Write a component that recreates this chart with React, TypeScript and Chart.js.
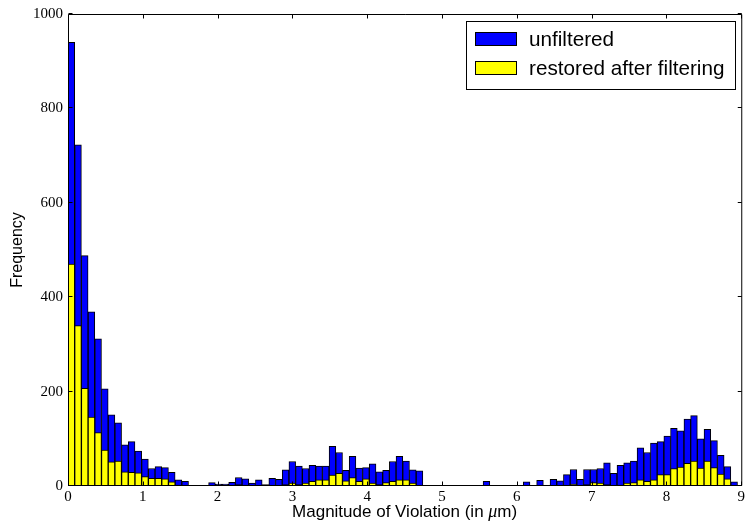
import React, { useEffect, useRef } from 'react';
import { Chart, registerables } from 'chart.js';

Chart.register(...registerables);

// Histogram: 100 bins of equal width starting at 0
const BIN_WIDTH = 0.0895;

const UNFILTERED = [
  940, 723, 488, 369, 312, 206, 151, 134, 87, 94,
  74, 57, 37, 41, 39, 29, 13, 10, 0, 1,
  1, 7, 4, 4, 8, 18, 15, 6, 13, 3,
  16, 14, 34, 52, 42, 37, 44, 42, 42, 84,
  71, 33, 63, 38, 39, 47, 30, 33, 52, 63,
  53, 34, 32, 0, 0, 0, 0, 0, 0, 0,
  0, 0, 10, 0, 0, 0, 0, 0, 9, 0,
  12, 0, 14, 11, 24, 35, 14, 35, 35, 37,
  49, 27, 44, 49, 53, 81, 71, 91, 94, 106,
  122, 117, 142, 149, 100, 120, 96, 65, 41, 9,
];

const RESTORED = [
  470, 340, 207, 146, 113, 76, 51, 53, 30, 29,
  28, 20, 16, 16, 15, 9, 2, 0, 0, 0,
  0, 0, 0, 0, 0, 3, 2, 0, 0, 0,
  0, 0, 3, 6, 3, 6, 10, 13, 13, 23,
  27, 11, 18, 10, 15, 6, 3, 7, 10, 13,
  13, 6, 1, 0, 0, 0, 0, 0, 0, 0,
  0, 0, 0, 0, 0, 0, 0, 0, 0, 0,
  0, 0, 0, 0, 0, 4, 1, 3, 7, 6,
  3, 1, 2, 6, 7, 13, 10, 13, 24, 24,
  37, 40, 48, 53, 38, 53, 39, 25, 15, 1,
];

const X_TICKS = [0, 1, 2, 3, 4, 5, 6, 7, 8, 9];
const Y_TICKS = [0, 200, 400, 600, 800, 1000];

const SERIES_LABELS = ['unfiltered', 'restored after filtering'];
const SERIES_COLORS = ['#0000ff', '#ffff00'];

const Y_LABEL = 'Frequency';
const X_LABEL_PRE = 'Magnitude of Violation (in ';
const X_LABEL_MU = 'μ';
const X_LABEL_POST = 'm)';

const SANS = '"Liberation Sans", Arial, sans-serif';
const SERIF = '"Liberation Serif", "Times New Roman", serif';

const toPoints = (vals: number[]) =>
  vals.map((v, i) => ({ x: (i + 0.5) * BIN_WIDTH, y: v }));

const framePlugin = {
  id: 'mplFrame',
  afterDatasetsDraw(chart: any) {
    const { ctx, chartArea: a, scales } = chart;
    const L = a.left + 0.5;
    const R = a.right + 0.5;
    const T = a.top + 0.5;
    const B = a.bottom - 0.5;
    const len = 4;
    ctx.save();
    ctx.strokeStyle = '#000';
    ctx.lineWidth = 1;
    ctx.beginPath();
    for (const t of X_TICKS) {
      const px = Math.round(scales.x.getPixelForValue(t)) + 0.5;
      ctx.moveTo(px, B);
      ctx.lineTo(px, B - len);
      ctx.moveTo(px, T);
      ctx.lineTo(px, T + len);
    }
    for (const t of Y_TICKS) {
      const py = Math.round(scales.y.getPixelForValue(t)) - 0.5;
      ctx.moveTo(L, py);
      ctx.lineTo(L + len, py);
      ctx.moveTo(R, py);
      ctx.lineTo(R - len, py);
    }
    ctx.stroke();
    ctx.beginPath();
    ctx.rect(L, T, R - L, B - T);
    ctx.stroke();
    ctx.restore();
  },
  afterDraw(chart: any) {
    const { ctx, chartArea: a } = chart;
    ctx.save();
    // Axis titles
    ctx.fillStyle = '#000';
    ctx.font = `16px ${SANS}`;
    ctx.textAlign = 'center';
    ctx.textBaseline = 'middle';
    ctx.translate(18, (a.top + a.bottom) / 2);
    ctx.rotate(-Math.PI / 2);
    ctx.fillText(Y_LABEL, 0, 0);
    ctx.setTransform(1, 0, 0, 1, 0, 0);

    ctx.textAlign = 'left';
    ctx.textBaseline = 'alphabetic';
    const sansFont = `17px ${SANS}`;
    const muFont = `italic 18px ${SERIF}`;
    ctx.font = sansFont;
    const w1 = ctx.measureText(X_LABEL_PRE).width;
    const w3 = ctx.measureText(X_LABEL_POST).width;
    ctx.font = muFont;
    const w2 = ctx.measureText(X_LABEL_MU).width;
    const total = w1 + w2 + w3;
    let x = (a.left + a.right) / 2 - total / 2;
    const base = 517;
    ctx.font = sansFont;
    ctx.fillText(X_LABEL_PRE, x, base);
    x += w1;
    ctx.font = muFont;
    ctx.fillText(X_LABEL_MU, x, base);
    x += w2;
    ctx.font = sansFont;
    ctx.fillText(X_LABEL_POST, x, base);

    // Legend (inside the axes, upper right)
    const bx = 466.5, by = 21.5, bw = 269, bh = 68;
    ctx.fillStyle = '#fff';
    ctx.fillRect(bx, by, bw, bh);
    ctx.strokeStyle = '#000';
    ctx.lineWidth = 1;
    ctx.strokeRect(bx, by, bw, bh);
    const rows = [39, 68];
    ctx.font = `20.7px ${SANS}`;
    ctx.textBaseline = 'middle';
    SERIES_LABELS.forEach((lab, i) => {
      const cy = rows[i];
      ctx.fillStyle = SERIES_COLORS[i];
      ctx.fillRect(475.5, cy - 6.5, 41, 13);
      ctx.strokeRect(475.5, cy - 6.5, 41, 13);
      ctx.fillStyle = '#000';
      ctx.fillText(lab, 529, cy + 1);
    });
    ctx.restore();
  },
};

export default function App() {
  const ref = useRef<HTMLCanvasElement | null>(null);

  useEffect(() => {
    if (!ref.current) return;
    const chart = new Chart(ref.current, {
      type: 'bar',
      data: {
        datasets: [
          {
            label: SERIES_LABELS[0],
            data: toPoints(UNFILTERED),
            backgroundColor: SERIES_COLORS[0],
            borderColor: '#000',
            borderWidth: 1,
            borderSkipped: false,
            grouped: false,
            order: 1,
            barPercentage: 1,
            categoryPercentage: 1,
          } as any,
          {
            label: SERIES_LABELS[1],
            data: toPoints(RESTORED),
            backgroundColor: SERIES_COLORS[1],
            borderColor: '#000',
            borderWidth: 1,
            borderSkipped: false,
            grouped: false,
            order: 0,
            barPercentage: 1,
            categoryPercentage: 1,
          } as any,
        ],
      },
      options: {
        animation: false,
        responsive: false,
        maintainAspectRatio: false,
        devicePixelRatio: 1,
        layout: { padding: { top: 12, right: 4, left: 0, bottom: 0 } },
        plugins: {
          legend: { display: false },
          tooltip: { enabled: false },
        },
        scales: {
          x: {
            type: 'linear',
            min: 0,
            max: 9,
            offset: false,
            grid: { display: false, drawTicks: false },
            border: { display: false },
            ticks: {
              stepSize: 1,
              autoSkip: false,
              maxRotation: 0,
              padding: 2,
              color: '#000',
              font: { family: SERIF, size: 15 },
              callback: (v: any) => String(v),
            },
            afterFit: (s: any) => {
              s.height = 41;
            },
          },
          y: {
            type: 'linear',
            min: 0,
            max: 1000,
            grid: { display: false, drawTicks: false },
            border: { display: false },
            ticks: {
              stepSize: 200,
              autoSkip: false,
              padding: 5,
              color: '#000',
              font: { family: SERIF, size: 15 },
              callback: (v: any) => String(v),
            },
            afterFit: (s: any) => {
              s.width = 68;
            },
          },
        },
      } as any,
      plugins: [framePlugin],
    });
    return () => chart.destroy();
  }, []);

  return (
    <div style={{ position: 'absolute', left: 0, top: 0, width: 747, height: 527, background: '#fff' }}>
      <canvas ref={ref} width={747} height={527} style={{ display: 'block' }} />
    </div>
  );
}
